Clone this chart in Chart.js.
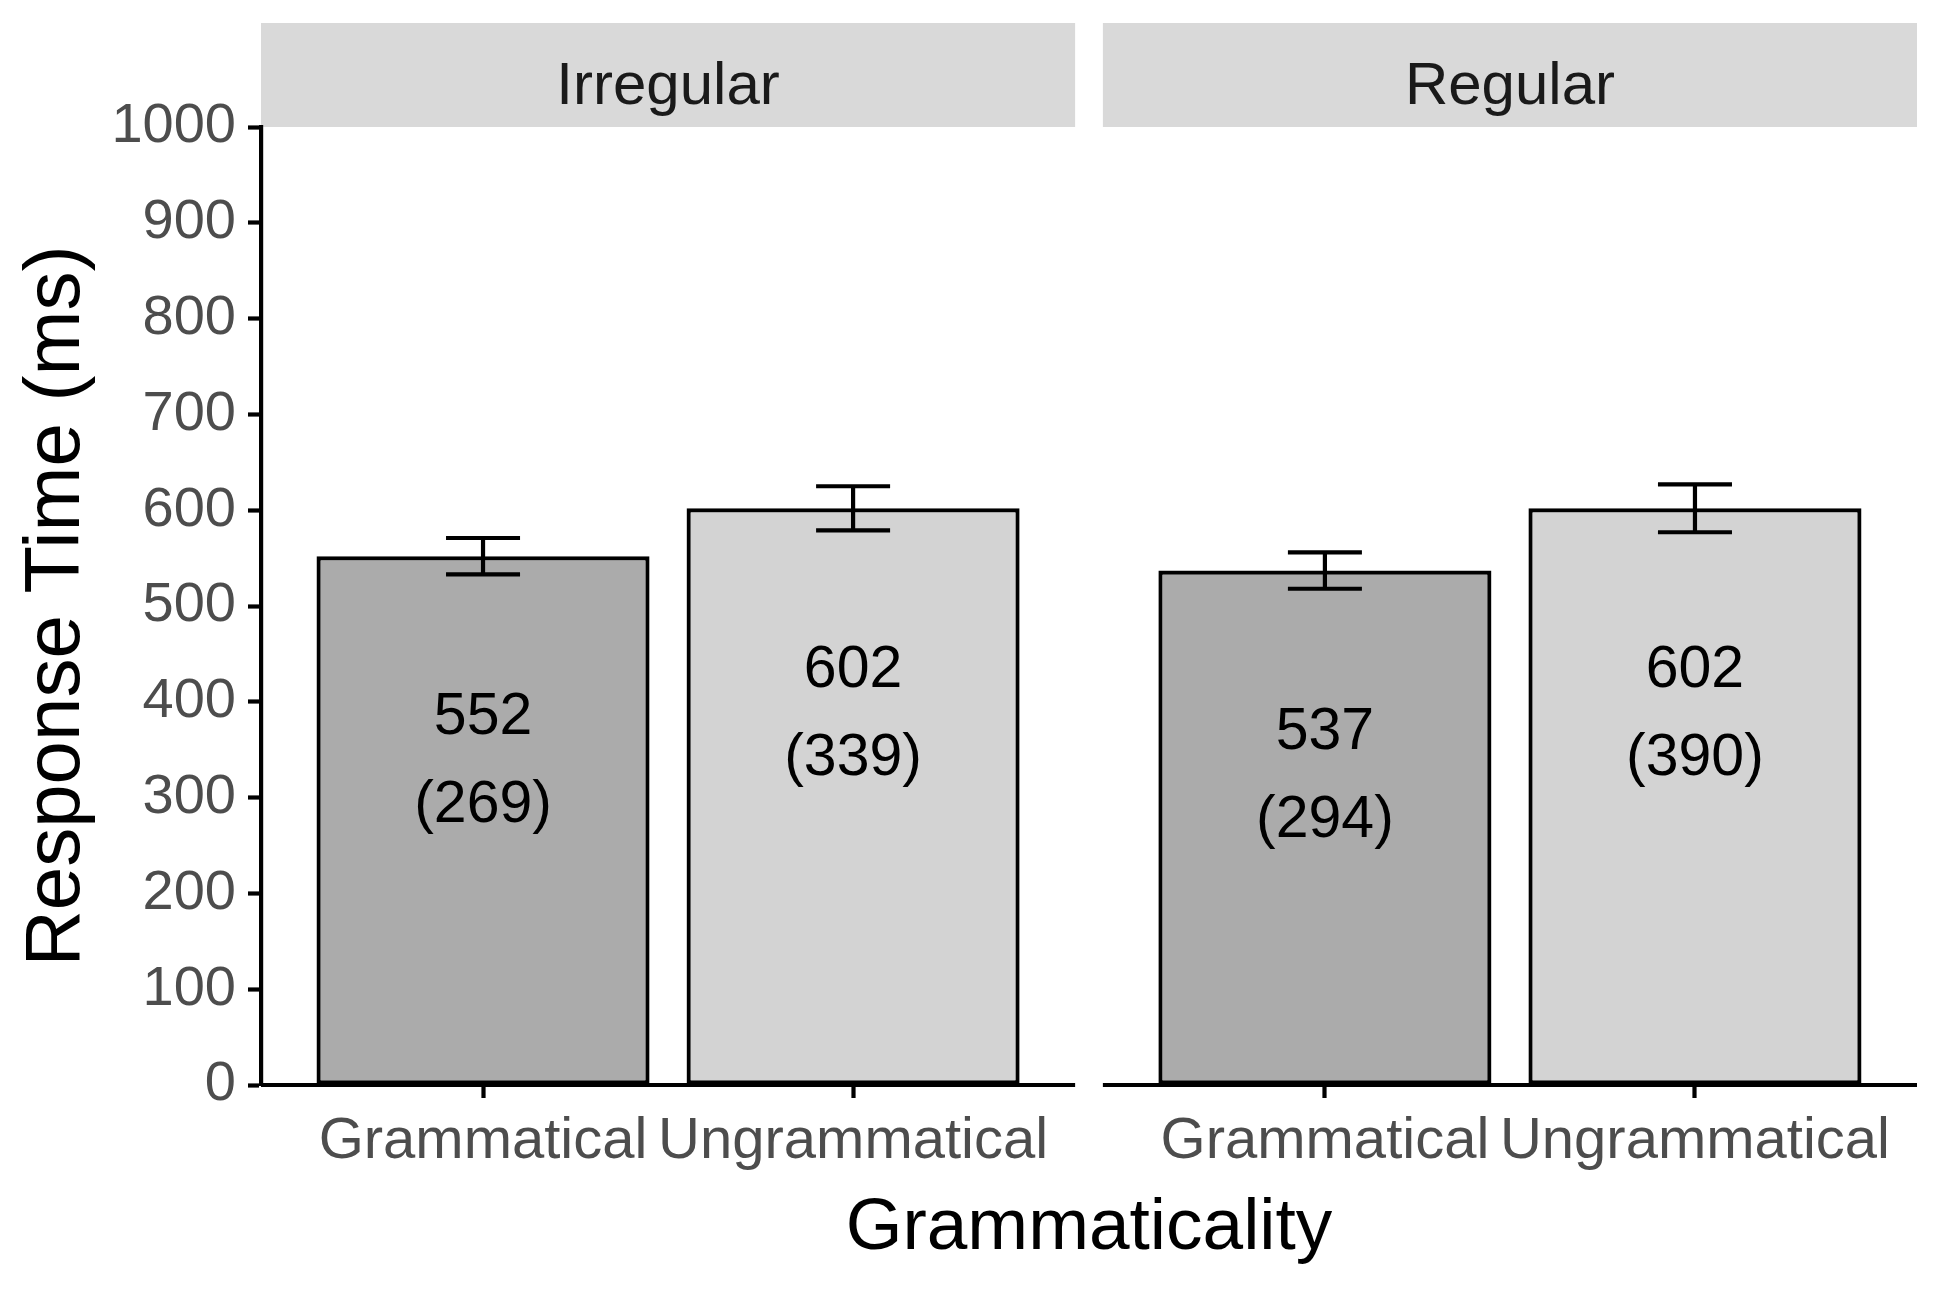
<!DOCTYPE html>
<html>
<head>
<meta charset="utf-8">
<script src="https://cdn.jsdelivr.net/npm/chart.js@4.4.1/dist/chart.umd.min.js"></script>
<style>
  html, body { margin: 0; padding: 0; background: #fff; }
  #wrap { position: relative; width: 1941px; height: 1292px; }
</style>
</head>
<body>
<div id="wrap"><canvas id="grafico"></canvas></div>
<script>
// dados
const paineis = ["Irregular", "Regular"];
const categorias = ["Grammatical", "Ungrammatical"];
const mediaGram = [552, 537];     // Irregular, Regular
const mediaUngram = [602, 602];
const dpGram = [269, 294];
const dpUngram = [339, 390];
const erroGram = [19, 19];
const erroUngram = [23, 25];
const ticksY = [0, 100, 200, 300, 400, 500, 600, 700, 800, 900, 1000];

const FONTE = '"Liberation Sans", Arial, sans-serif';
const ESPACO = 0.075;              // folga entre os painéis (unidades do eixo x)
const LARGURA_PAINEL = 2.2;        // 2 categorias + expansão de 0.6 de cada lado
const TRACO = 4.2;

const posicao = (painel, cat) => painel * (LARGURA_PAINEL + ESPACO) + 1 + cat;
const inicioPainel = painel => painel * (LARGURA_PAINEL + ESPACO) + 0.4;

const medias = [mediaGram, mediaUngram];
const dps = [dpGram, dpUngram];
const erros = [erroGram, erroUngram];
const cores = ["#ababab", "#d3d3d3"];

const rotulosX = {};
paineis.forEach((p, i) => categorias.forEach((c, j) => { rotulosX[posicao(i, j)] = c; }));

const facetas = {
  id: "facetas",
  beforeDraw(chart) {
    const { ctx, chartArea, scales: { x } } = chart;
    ctx.save();
    paineis.forEach((nome, p) => {
      const ini = x.getPixelForValue(inicioPainel(p));
      const fim = x.getPixelForValue(inicioPainel(p) + LARGURA_PAINEL);
      ctx.fillStyle = "#d9d9d9";
      ctx.fillRect(ini, chartArea.top - 104, fim - ini, 104);
      ctx.fillStyle = "#1a1a1a";
      ctx.font = "60px " + FONTE;
      ctx.textAlign = "center";
      ctx.textBaseline = "alphabetic";
      ctx.fillText(nome, (ini + fim) / 2, chartArea.top - 23);
    });
    ctx.restore();
  },
  afterDatasetsDraw(chart) {
    const { ctx, chartArea, scales: { x, y } } = chart;
    const meia = x.getPixelForValue(1.1) - x.getPixelForValue(1);
    ctx.save();
    // linha do eixo x, uma por painel
    ctx.strokeStyle = "#000";
    ctx.lineWidth = TRACO;
    paineis.forEach((nome, p) => {
      const ini = x.getPixelForValue(inicioPainel(p));
      const fim = x.getPixelForValue(inicioPainel(p) + LARGURA_PAINEL);
      ctx.beginPath();
      ctx.moveTo(ini, chartArea.bottom);
      ctx.lineTo(fim, chartArea.bottom);
      ctx.stroke();
    });
    chart.data.datasets.forEach((ds, i) => {
      chart.getDatasetMeta(i).data.forEach((barra, j) => {
        const m = ds.data[j].y;
        const e = erros[i][j];
        const cx = barra.x;
        const y1 = y.getPixelForValue(m + e);
        const y2 = y.getPixelForValue(m - e);
        ctx.strokeStyle = "#000";
        ctx.lineWidth = TRACO;
        ctx.beginPath();
        ctx.moveTo(cx - meia, y1); ctx.lineTo(cx + meia, y1);
        ctx.moveTo(cx, y1); ctx.lineTo(cx, y2);
        ctx.moveTo(cx - meia, y2); ctx.lineTo(cx + meia, y2);
        ctx.stroke();

        const yc = y.getPixelForValue(m - 215);
        ctx.fillStyle = "#000";
        ctx.font = "59px " + FONTE;
        ctx.textAlign = "center";
        ctx.textBaseline = "middle";
        ctx.fillText(String(m), cx, yc - 44);
        ctx.fillText("(" + dps[i][j] + ")", cx, yc + 44);
      });
    });
    ctx.restore();
  }
};

new Chart(document.getElementById("grafico"), {
  type: "bar",
  data: {
    datasets: categorias.map((cat, i) => ({
      label: cat,
      data: paineis.map((p, k) => ({ x: posicao(k, i), y: medias[i][k] })),
      backgroundColor: cores[i],
      borderColor: "#000",
      borderWidth: TRACO,
      borderSkipped: false,
      grouped: false,
      barPercentage: 0.9,
      categoryPercentage: 1
    }))
  },
  options: {
    responsive: true,
    maintainAspectRatio: false,
    devicePixelRatio: 1,
    animation: false,
    layout: { padding: { top: 127, right: 24, left: 0, bottom: 0 } },
    scales: {
      x: {
        type: "linear",
        offset: false,
        min: 0.4,
        max: 2 * LARGURA_PAINEL + ESPACO + 0.4,
        afterBuildTicks: s => { s.ticks = Object.keys(rotulosX).map(v => ({ value: +v })); },
        afterFit: s => { s.height = 207; },
        ticks: {
          autoSkip: false,
          maxRotation: 0,
          padding: 9,
          color: "#4d4d4d",
          font: { family: FONTE, size: 58 },
          callback: v => rotulosX[v] || ""
        },
        grid: { offset: false, drawOnChartArea: false, tickLength: 13, tickColor: "#000", tickWidth: TRACO },
        border: { display: false },
        title: {
          display: true,
          text: "Grammaticality",
          color: "#000",
          font: { family: FONTE, size: 73 },
          padding: { top: 4, bottom: 19 }
        }
      },
      y: {
        min: 0,
        max: 1000,
        afterBuildTicks: s => { s.ticks = ticksY.map(v => ({ value: v })); },
        afterFit: s => { s.width = 261; },
        ticks: {
          padding: 12,
          color: "#4d4d4d",
          font: { family: FONTE, size: 56 },
          callback: v => String(v)
        },
        grid: { drawOnChartArea: false, tickLength: 13, tickColor: "#000", tickWidth: TRACO },
        border: { display: true, color: "#000", width: TRACO },
        title: {
          display: true,
          text: "Response Time (ms)",
          color: "#000",
          font: { family: FONTE, size: 78 },
          padding: { top: 11, bottom: 4 }
        }
      }
    },
    plugins: {
      legend: { display: false },
      tooltip: { enabled: false }
    }
  },
  plugins: [facetas]
});
</script>
</body>
</html>
